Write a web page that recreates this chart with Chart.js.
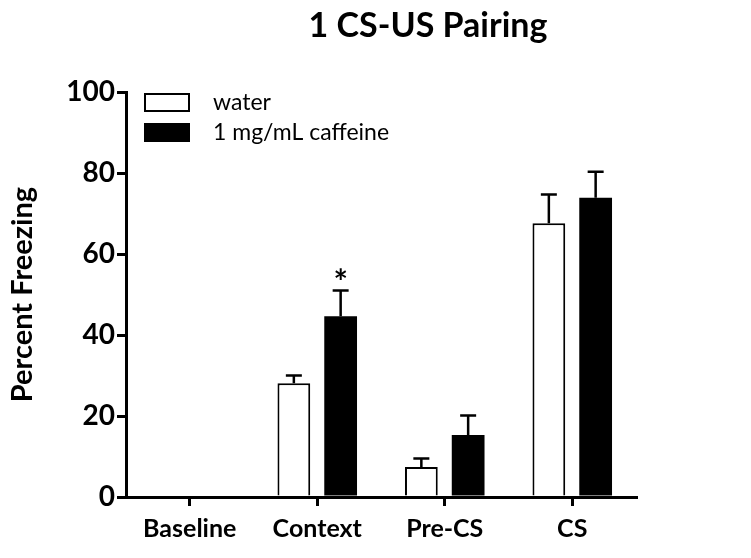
<!DOCTYPE html>
<html>
<head>
<meta charset="utf-8">
<script src="https://cdn.jsdelivr.net/npm/chart.js@4.4.0/dist/chart.umd.min.js"></script>
<style>
  html, body { margin: 0; padding: 0; background: #fff; }
</style>
</head>
<body>
<canvas id="freezingChart" width="751" height="558"></canvas>
<script>
// values (percent freezing, mean and SEM)
const categories = ['Baseline', 'Context', 'Pre-CS', 'CS'];
const waterMeans = [0, 28.1, 7.4, 67.6];
const waterSem = [0, 1.9, 2.1, 7.1];
const caffeineMeans = [0, 44.6, 15.3, 73.9];
const caffeineSem = [0, 6.4, 4.8, 6.4];
const caffeineMarks = ['', '*', '', ''];
const seriesNames = ['water', '1 mg/mL caffeine'];
const chartTitle = '1 CS-US Pairing';
const yTitle = 'Percent Freezing';

const FONT = 'Lato, "Liberation Sans", sans-serif';
const semByDataset = [waterSem, caffeineSem];
const marksByDataset = [null, caffeineMarks];

// title above the plot
const titlePlugin = {
  id: 'topTitle',
  afterDraw(chart) {
    const ctx = chart.ctx;
    ctx.save();
    ctx.fillStyle = '#000';
    ctx.font = 'bold 34px ' + FONT;
    ctx.textAlign = 'center';
    ctx.textBaseline = 'middle';
    ctx.fillText(chartTitle, 428, 26);
    ctx.restore();
  }
};

// error bars (upper only) and significance marks
const errorBarPlugin = {
  id: 'errorBars',
  afterDatasetsDraw(chart) {
    const ctx = chart.ctx;
    const yScale = chart.scales.y;
    ctx.save();
    ctx.strokeStyle = '#000';
    ctx.fillStyle = '#000';
    ctx.lineWidth = 2.5;
    chart.data.datasets.forEach((ds, di) => {
      const meta = chart.getDatasetMeta(di);
      meta.data.forEach((bar, i) => {
        const sem = semByDataset[di][i];
        const top = yScale.getPixelForValue(ds.data[i] + sem);
        if (sem > 0) {
          ctx.beginPath();
          ctx.moveTo(bar.x, bar.y);
          ctx.lineTo(bar.x, top);
          ctx.moveTo(bar.x - 8, top);
          ctx.lineTo(bar.x + 8, top);
          ctx.stroke();
        }
        const marks = marksByDataset[di];
        if (marks && marks[i]) {
          ctx.font = 'bold 34px ' + FONT;
          ctx.textAlign = 'center';
          ctx.textBaseline = 'alphabetic';
          ctx.fillText(marks[i], bar.x, top + 4);
        }
      });
    });
    ctx.restore();
  }
};

// legend drawn inside the plot area, top left
const legendPlugin = {
  id: 'boxLegend',
  afterDraw(chart) {
    const ctx = chart.ctx;
    const area = chart.chartArea;
    ctx.save();
    ctx.font = '23px ' + FONT;
    ctx.textBaseline = 'middle';
    chart.data.datasets.forEach((ds, i) => {
      const x = area.left + 19;
      const y = area.top + 2 + i * 30;
      ctx.fillStyle = ds.backgroundColor;
      ctx.fillRect(x, y, 44, 17);
      ctx.strokeStyle = '#000';
      ctx.lineWidth = 2;
      ctx.strokeRect(x, y, 44, 17);
      ctx.fillStyle = '#000';
      ctx.fillText(ds.label, x + 68, y + 9);
    });
    ctx.restore();
  }
};

const ctx = document.getElementById('freezingChart').getContext('2d');
const freezingChart = new Chart(ctx, {
  type: 'bar',
  data: {
    labels: categories,
    datasets: [
      {
        label: seriesNames[0],
        data: waterMeans,
        backgroundColor: '#ffffff',
        borderColor: '#000000',
        borderWidth: 2,
        borderSkipped: 'bottom'
      },
      {
        label: seriesNames[1],
        data: caffeineMeans,
        backgroundColor: '#000000',
        borderColor: '#000000',
        borderWidth: 0
      }
    ]
  },
  options: {
    responsive: false,
    animation: false,
    categoryPercentage: 0.734,
    barPercentage: 0.7,
    layout: { padding: { top: 92, right: 115, left: 0, bottom: 0 } },
    plugins: {
      legend: { display: false },
      title: { display: false },
      tooltip: { enabled: false }
    },
    scales: {
      x: {
        afterFit(scale) { scale.height = 61; },
        border: { color: '#000', width: 3 },
        grid: {
          offset: false,
          drawOnChartArea: false,
          drawTicks: true,
          tickLength: 9,
          color: '#000',
          lineWidth: 3
        },
        ticks: {
          color: '#000',
          padding: 8,
          font: { family: FONT, size: 25, weight: 'bold' }
        }
      },
      y: {
        min: 0,
        max: 100,
        afterFit(scale) { scale.width = 126; },
        border: { color: '#000', width: 3 },
        grid: {
          drawOnChartArea: false,
          drawTicks: true,
          tickLength: 9,
          color: '#000',
          lineWidth: 3
        },
        ticks: {
          stepSize: 20,
          color: '#000',
          padding: 2,
          font: { family: FONT, size: 28, weight: 'bold' }
        },
        title: {
          display: true,
          text: yTitle,
          color: '#000',
          padding: { top: 5, bottom: 0 },
          font: { family: FONT, size: 29, weight: 'bold' }
        }
      }
    }
  },
  plugins: [titlePlugin, errorBarPlugin, legendPlugin]
});
</script>
</body>
</html>
